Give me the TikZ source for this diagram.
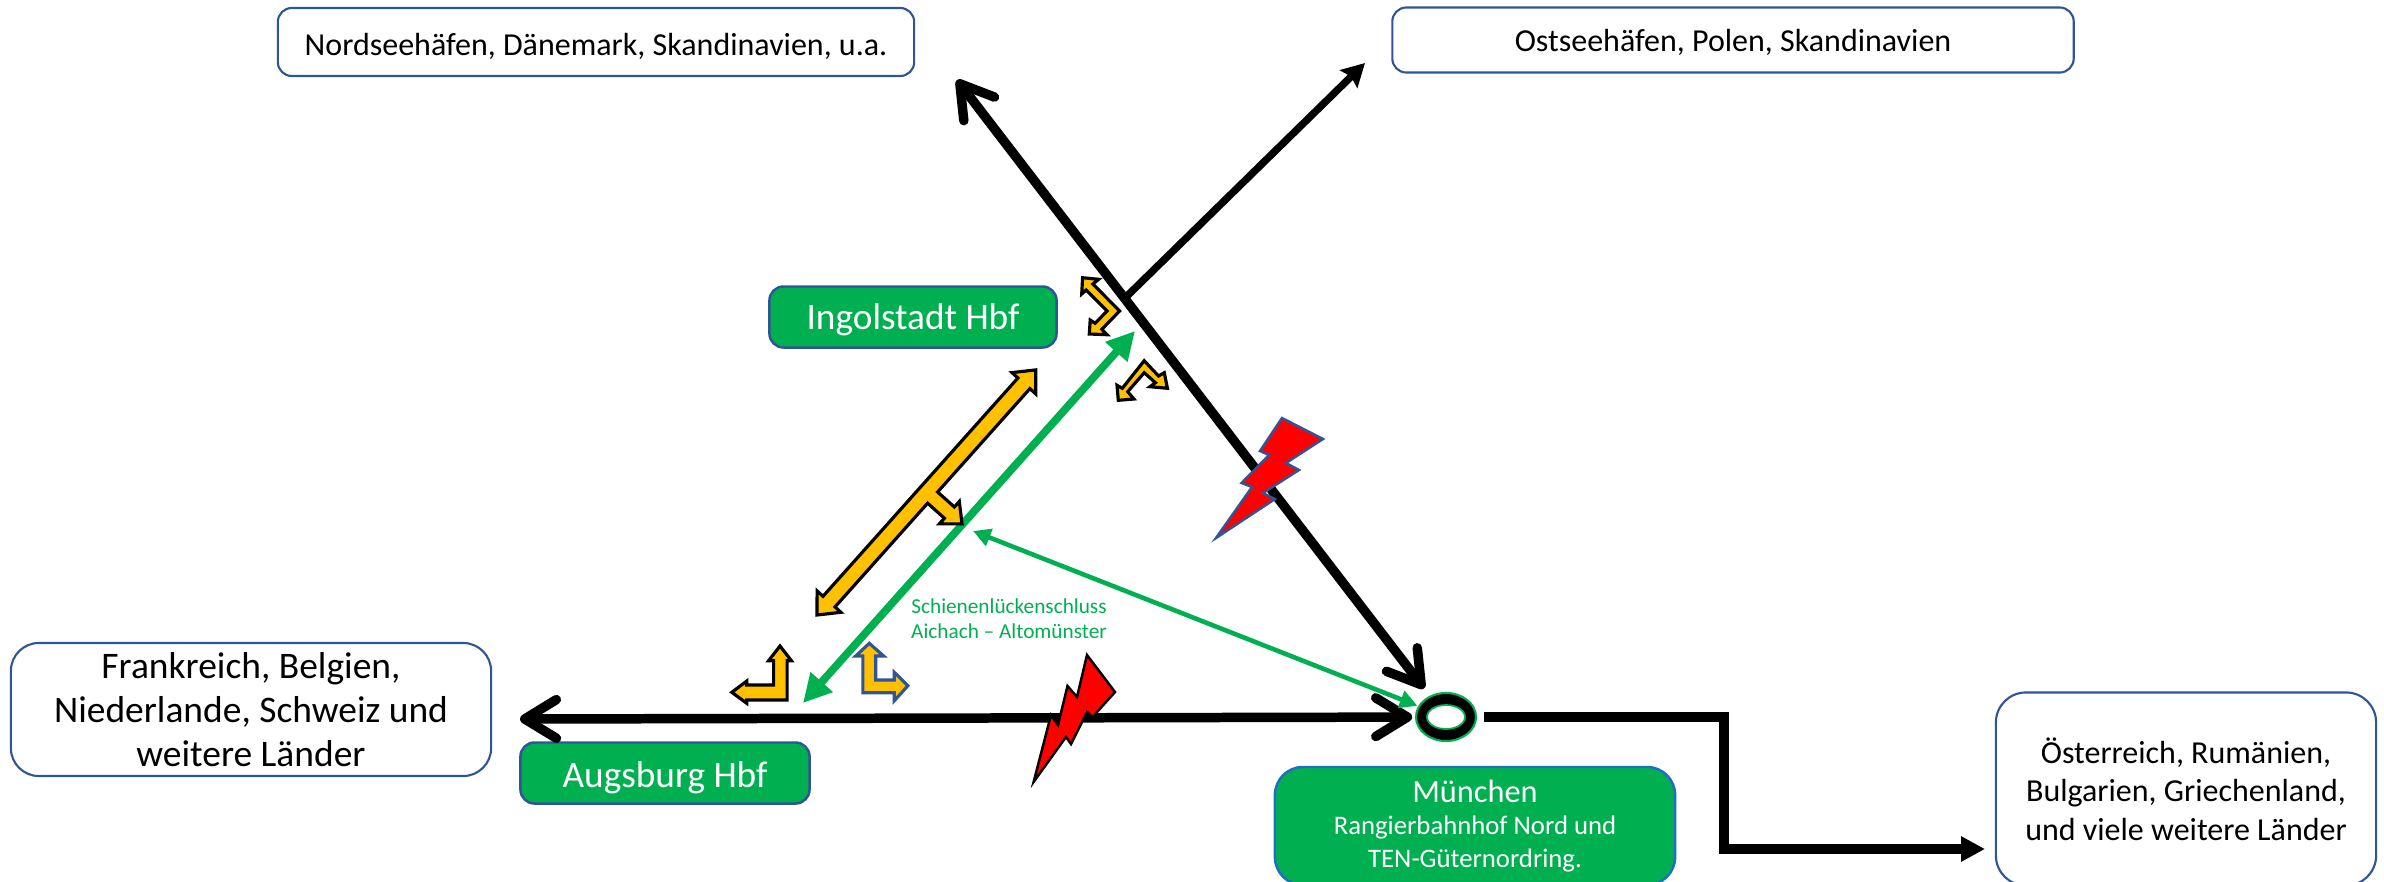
\documentclass[tikz,border=0pt]{standalone}
\usepackage{fontspec}
\setmainfont{Carlito}
\usetikzlibrary{arrows.meta,shapes.geometric}
\definecolor{railgreen}{HTML}{00B050}
\definecolor{boxblue}{HTML}{2F5597}
\definecolor{munichblue}{HTML}{1F6FC0}
\definecolor{boxorange}{HTML}{FFC000}
\tikzset{
  whitebox/.style={draw=boxblue,line width=0.6pt,fill=white,rounded corners=0.14cm,align=center,inner sep=0pt},
  greenbox/.style={draw=boxblue,line width=0.7pt,fill=railgreen,text=white,rounded corners=0.14cm,align=center,inner sep=0pt},
  trackline/.style={line width=2.7pt,line cap=round},
  openhead/.tip={Straight Barb[length=9pt,width=11pt,round]},
  orangeturn/.style={fill=boxorange,draw=black,line width=0.9pt},
  blueturn/.style={fill=boxorange,draw=boxblue,line width=0.9pt},
  boltshape/.style={fill=red,line width=0.7pt,line join=miter}
}
\begin{document}
\begin{tikzpicture}[x=0.01cm,y=-0.01cm]
    \useasboundingbox (0,0) rectangle (2384,881);
    % destination boxes
    \node[whitebox,minimum width=6.36cm,minimum height=0.68cm,text height=8.6pt,text depth=1pt,font=\fontsize{9.1}{10}\selectfont] (nordsee) at (596,42) {Nordseehäfen, Dänemark, Skandinavien, u.a.};
    \node[whitebox,minimum width=6.81cm,minimum height=0.65cm,text height=7.6pt,text depth=1pt,font=\fontsize{9.1}{10}\selectfont] (ostsee) at (1733,40) {Ostseehäfen, Polen, Skandinavien};
    \node[whitebox,minimum width=4.80cm,minimum height=1.33cm,font=\fontsize{10.66}{12.6}\selectfont,rounded corners=0.28cm] (frankreich) at (251,709.5) {Frankreich, Belgien,\\Niederlande, Schweiz und\\weitere Länder};
    \node[whitebox,minimum width=3.80cm,minimum height=1.93cm,font=\fontsize{9.1}{10.9}\selectfont,rounded corners=0.3cm] (oesterreich) at (2186,789) {Österreich, Rumänien,\\Bulgarien, Griechenland,\\und viele weitere Länder};
    % stations
    \node[greenbox,minimum width=2.87cm,minimum height=0.61cm,text height=8.3pt,text depth=1pt,font=\fontsize{10.6}{12}\selectfont] (ingolstadt) at (913,317) {Ingolstadt Hbf};
    \node[greenbox,minimum width=2.89cm,minimum height=0.61cm,text height=9.2pt,text depth=1pt,font=\fontsize{10.6}{12}\selectfont] (augsburg) at (665,773) {Augsburg Hbf};
    \node[greenbox,draw=munichblue,minimum width=4.00cm,minimum height=1.18cm,rounded corners=0.28cm,font=\fontsize{7.6}{9.2}\selectfont] (muenchenbox) at (1475,826) {{\fontsize{9.2}{10}\selectfont München}\\Rangierbahnhof Nord und\\TEN-Güternordring.};
    \node[ellipse,draw=railgreen,fill=black,line width=0.6pt,minimum width=0.60cm,minimum height=0.48cm,inner sep=0pt] (muc) at (1446,717) {};
    \node[ellipse,draw=railgreen,fill=white,line width=0.5pt,minimum width=0.38cm,minimum height=0.24cm,inner sep=0pt] (muchole) at (1446,717) {};
    \node[text=railgreen,align=center,inner sep=0pt,font=\fontsize{6.05}{7.2}\selectfont] (luecke) at (1009,619) {Schienenlückenschluss\\Aichach -- Altomünster};
    % free ends of the tracks
    \coordinate (nordtip) at (957,80);
    \coordinate (osttip) at (1365,63);
    \coordinate (junction) at (1125,298);
    \coordinate (westtip) at (520,719);
    \coordinate (bendtop) at (1724,717);
    \coordinate (bendlow) at (1724,849);
    \coordinate (easttip) at (1985,849);
    \coordinate (gleisnord) at (1135,331);
    \coordinate (gleissued) at (803,703);
    \coordinate (lueckeend) at (973,531);
    % tracks
    \draw[trackline,{openhead}-{openhead},shorten >=2.6pt] (nordtip) -- (muc);
    \draw[line width=2.1pt,-{Stealth[length=6.5pt,width=7pt,inset=1pt]}] (junction) -- (osttip);
    \draw[trackline,{openhead}-{openhead},shorten >=0.8pt] (westtip) -- (muc);
    \draw[line width=2.6pt,-{Triangle[length=6.8pt,width=6.8pt]},shorten <=2pt] (muc.east) -- (bendtop) -- (bendlow) -- (easttip);
    \draw[railgreen,line width=2.2pt,{Triangle[length=8pt,width=8pt]}-{Triangle[length=8pt,width=8pt]}] (gleisnord) -- (gleissued);
    \draw[railgreen,line width=1.3pt,{Triangle[length=5pt,width=5pt]}-{Triangle[length=5pt,width=5pt]},shorten >=0.2pt] (lueckeend) -- (muc);
    % orange turn arrows
    \draw[orangeturn] (817,615) -- (817.1,590.9) -- (823,596.3) -- (1017.9,378) -- (1012,372.6) -- (1035.8,369.9) -- (1035.8,394) -- (1029.9,388.6) -- (937.6,492) -- (954.4,507) -- (959.3,501.4) -- (962,523.9) -- (939.4,523.8) -- (944.4,518.2) -- (927.6,503.2) -- (835,606.9) -- (840.9,612.3) -- cycle;
    \draw[orangeturn] (1082.6,277.7) -- (1098.7,279.3) -- (1092.9,284) -- (1119.6,311) -- (1101.8,329.3) -- (1107.1,334.7) -- (1089.3,334) -- (1090.2,320) -- (1095.1,323.3) -- (1107.1,311) -- (1086.2,290) -- (1081.7,294) -- cycle;
    \draw[orangeturn] (1144.2,360.7) -- (1158.5,376) -- (1164.3,372.7) -- (1167.4,388.3) -- (1150,386.7) -- (1155.4,382.7) -- (1144.2,372.7) -- (1127.7,391.7) -- (1133.9,399) -- (1118.3,400.3) -- (1117,385.3) -- (1122.3,388.3) -- cycle;
    \draw[orangeturn] (780,646) -- (791.4,660.7) -- (787.1,660.7) -- (787.1,700) -- (746.8,700) -- (746.8,703.3) -- (731.8,692.3) -- (746.8,681) -- (746.8,685) -- (773.6,685) -- (773.6,660.7) -- (768.6,660.7) -- cycle;
    \draw[blueturn] (869.3,643.3) -- (883.6,656) -- (875.7,656) -- (875.7,680) -- (894.3,680) -- (894.3,672.3) -- (907.9,685.7) -- (894.3,700.7) -- (894.3,692.7) -- (862.9,692.7) -- (862.9,656) -- (855.7,656) -- cycle;
    % lightning bolts
    \draw[boltshape,draw=boxblue] (1282,418) -- (1323,439) -- (1286,463) -- (1299,470) -- (1263,493) -- (1275,499) -- (1216,538) -- (1252,487) -- (1241.5,483) -- (1269,455) -- (1260,451) -- cycle;
    \draw[boltshape,draw=black] (1087,655) -- (1115,692) -- (1092.5,717) -- (1087,712) -- (1071,744) -- (1066,737) -- (1033.6,782) -- (1051,715) -- (1058,725) -- (1067.5,686) -- (1077,697) -- cycle;
\end{tikzpicture}
\end{document}
